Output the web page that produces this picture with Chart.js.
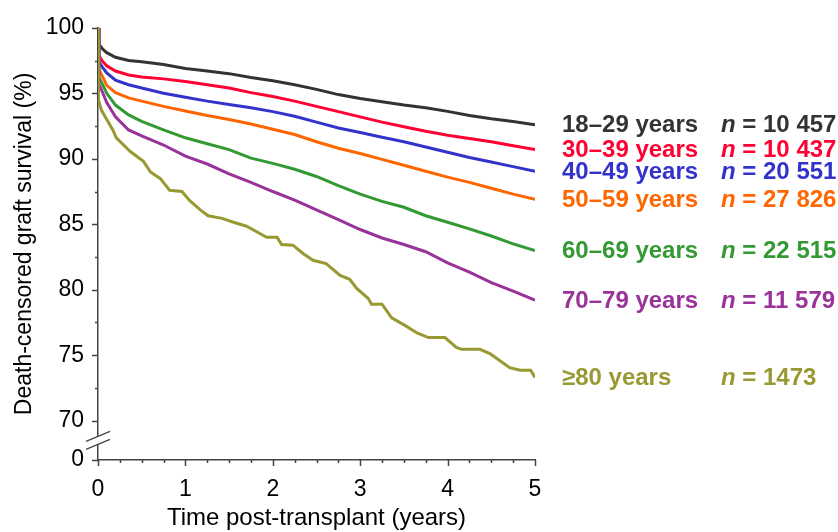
<!DOCTYPE html>
<html>
<head>
<meta charset="utf-8">
<script src="https://cdn.jsdelivr.net/npm/chart.js@4.4.1/dist/chart.umd.min.js"></script>
<style>
  html, body { margin: 0; padding: 0; background: #fff; }
  #wrap { width: 838px; height: 532px; }
</style>
</head>
<body>
<div id="wrap"><canvas id="survivalChart"></canvas></div>
<script>
// time points (years) shared by the six smoother curves
const years = [0, 0.01, 0.05, 0.1, 0.2, 0.35, 0.5, 0.75, 1, 1.25, 1.5, 1.75, 2, 2.25, 2.5, 2.75, 3, 3.25, 3.5, 3.75, 4, 4.25, 4.5, 4.75, 5];

const survival18to29 = [100, 98.75, 98.4, 98.1, 97.75, 97.5, 97.4, 97.2, 96.9, 96.7, 96.5, 96.2, 95.95, 95.65, 95.3, 94.9, 94.6, 94.35, 94.1, 93.9, 93.62, 93.3, 93.05, 92.85, 92.6];
const survival30to39 = [100, 97.9, 97.45, 97.1, 96.7, 96.4, 96.25, 96.1, 95.9, 95.65, 95.4, 95.05, 94.75, 94.4, 94.0, 93.6, 93.2, 92.8, 92.45, 92.1, 91.8, 91.55, 91.3, 91.0, 90.7];
const survival40to49 = [100, 97.4, 97.0, 96.55, 96.0, 95.65, 95.4, 95.0, 94.7, 94.4, 94.15, 93.9, 93.6, 93.25, 92.8, 92.35, 92.0, 91.65, 91.3, 90.9, 90.5, 90.1, 89.75, 89.4, 89.05];
const survival50to59 = [100, 96.85, 96.3, 95.6, 95.05, 94.65, 94.4, 94.0, 93.65, 93.3, 93.0, 92.65, 92.25, 91.85, 91.3, 90.8, 90.4, 89.95, 89.5, 89.05, 88.6, 88.2, 87.75, 87.3, 86.9];
const survival60to69 = [100, 96.2, 95.7, 95.0, 94.1, 93.35, 92.85, 92.2, 91.6, 91.15, 90.7, 90.05, 89.65, 89.2, 88.65, 87.95, 87.3, 86.75, 86.3, 85.65, 85.15, 84.65, 84.1, 83.5, 83.0];
const survival70to79 = [100, 95.7, 95.1, 94.3, 93.2, 92.2, 91.75, 91.05, 90.2, 89.6, 88.85, 88.2, 87.5, 86.85, 86.1, 85.35, 84.6, 83.95, 83.45, 82.9, 82.05, 81.35, 80.55, 79.9, 79.2];

// the >=80 curve has few patients, so it is read at its visible steps
const yearsOver80 = [0, 0.005, 0.04, 0.1, 0.17, 0.21, 0.37, 0.52, 0.6, 0.71, 0.82, 0.96, 1.05, 1.17, 1.26, 1.42, 1.55, 1.7, 1.93, 2.05, 2.1, 2.23, 2.35, 2.46, 2.61, 2.77, 2.88, 2.96, 3.09, 3.13, 3.25, 3.36, 3.53, 3.65, 3.78, 3.97, 4.1, 4.16, 4.37, 4.49, 4.71, 4.83, 4.95, 5];
const survivalOver80 = [100, 94.5, 93.7, 93.0, 92.2, 91.6, 90.55, 89.8, 89.0, 88.5, 87.6, 87.5, 86.8, 86.1, 85.65, 85.45, 85.15, 84.85, 84.0, 84.0, 83.45, 83.4, 82.75, 82.25, 82.0, 81.1, 80.8, 80.1, 79.35, 78.9, 78.9, 77.85, 77.2, 76.7, 76.35, 76.35, 75.6, 75.45, 75.45, 75.1, 74.05, 73.85, 73.85, 73.3];

const ageGroups = ['18\u201329 years', '30\u201339 years', '40\u201349 years', '50\u201359 years', '60\u201369 years', '70\u201379 years', '\u226580 years'];
const sampleSizes = ['10 457', '10 437', '20 551', '27 826', '22 515', '11 579', '1473'];
const colors = ['#333333', '#ff0033', '#3333cc', '#ff6600', '#339933', '#993399', '#999933'];

const xTicks = [0, 1, 2, 3, 4, 5];
const yTicks = [70, 75, 80, 85, 90, 95, 100];
const yFloor = 67;          // bottom of the broken axis, shown as "0"
const yBreak = 68.5;        // where the // break marks sit

const FONT = "'Liberation Sans', Arial, Helvetica, sans-serif";

const curves = [survival18to29, survival30to39, survival40to49, survival50to59, survival60to69, survival70to79];
const datasets = curves.map((vals, i) => ({
    label: ageGroups[i],
    data: years.map((t, j) => ({ x: t, y: vals[j] })),
    borderColor: colors[i],
    borderWidth: 3,
    pointRadius: 0,
    tension: 0,
    fill: false
}));
datasets.push({
    label: ageGroups[6],
    data: yearsOver80.map((t, j) => ({ x: t, y: survivalOver80[j] })),
    borderColor: colors[6],
    borderWidth: 3,
    pointRadius: 0,
    tension: 0,
    fill: false
});
// draw the oldest group first so the others sit on top near t=0
datasets.forEach((d, i) => d.order = -i);

const axisColor = '#444444';

const axisExtras = {
    id: 'axisExtras',
    afterDraw(chart) {
        const { ctx, chartArea, scales: { x, y } } = chart;
        ctx.save();
        ctx.strokeStyle = axisColor;
        ctx.lineWidth = 1.5;
        ctx.beginPath();
        // y ticks, majors and halves
        [yFloor, ...yTicks].forEach(v => {
            const py = Math.round(y.getPixelForValue(v)) + 0.5;
            ctx.moveTo(chartArea.left - 6, py);
            ctx.lineTo(chartArea.left, py);
        });
        for (let v = 72.5; v < 100; v += 5) {
            const py = Math.round(y.getPixelForValue(v)) + 0.5;
            ctx.moveTo(chartArea.left - 3, py);
            ctx.lineTo(chartArea.left, py);
        }
        // x ticks, years and quarters
        for (let t = 0; t <= 5.001; t += 0.25) {
            const px = Math.round(x.getPixelForValue(t)) + 0.5;
            const len = Math.abs(t - Math.round(t)) < 1e-6 ? 6 : 3;
            ctx.moveTo(px, chartArea.bottom);
            ctx.lineTo(px, chartArea.bottom + len);
        }
        ctx.stroke();

        // axis break
        const by = y.getPixelForValue(yBreak);
        const bx = chartArea.left;
        ctx.fillStyle = '#fff';
        ctx.beginPath();
        ctx.moveTo(bx - 12, by + 9);
        ctx.lineTo(bx + 12, by - 1);
        ctx.lineTo(bx + 12, by - 9);
        ctx.lineTo(bx - 12, by + 1);
        ctx.closePath();
        ctx.fill();
        ctx.lineWidth = 1.2;
        ctx.beginPath();
        ctx.moveTo(bx - 12, by + 1);
        ctx.lineTo(bx + 12, by - 9);
        ctx.moveTo(bx - 12, by + 9);
        ctx.lineTo(bx + 12, by - 1);
        ctx.stroke();
        ctx.restore();
    },
    afterDatasetsDraw(chart) {
        const { ctx, chartArea, scales: { y } } = chart;
        ctx.save();
        ctx.textBaseline = 'middle';
        ctx.textAlign = 'left';
        chart.data.datasets.forEach((ds, i) => {
            const last = ds.data[ds.data.length - 1];
            const py = y.getPixelForValue(last.y) + 1;
            ctx.fillStyle = colors[i];
            ctx.font = 'bold 24px ' + FONT;
            ctx.fillText(ageGroups[i], chartArea.right + 27, py);
            let px = chartArea.right + 186;
            ctx.font = 'italic bold 24px ' + FONT;
            ctx.fillText('n', px, py);
            px += ctx.measureText('n').width;
            ctx.font = 'bold 24px ' + FONT;
            ctx.fillText(' = ' + sampleSizes[i], px, py);
        });
        ctx.restore();
    }
};

new Chart(document.getElementById('survivalChart'), {
    type: 'line',
    data: { datasets },
    options: {
        responsive: true,
        maintainAspectRatio: false,
        animation: false,
        layout: { padding: { left: 0, top: 23, right: 303, bottom: 0 } },
        plugins: { legend: { display: false }, tooltip: { enabled: false } },
        scales: {
            x: {
                type: 'linear',
                min: 0,
                max: 5,
                afterFit: s => { s.height = 72; },
                afterBuildTicks: s => { s.ticks = xTicks.map(v => ({ value: v })); },
                grid: { display: false, drawTicks: false },
                border: { display: true, color: axisColor, width: 1.5 },
                ticks: { color: '#000', padding: 16, font: { family: FONT, size: 23 }, maxRotation: 0 },
                title: {
                    display: true,
                    text: 'Time post-transplant (years)',
                    color: '#000',
                    font: { family: FONT, size: 24 },
                    padding: { top: 0, bottom: -1 }
                }
            },
            y: {
                type: 'linear',
                min: yFloor,
                max: 100,
                afterFit: s => { s.width = 98; },
                afterBuildTicks: s => { s.ticks = [yFloor, ...yTicks].map(v => ({ value: v })); },
                grid: { display: false, drawTicks: false },
                border: { display: true, color: axisColor, width: 1.5 },
                ticks: {
                    color: '#000',
                    padding: 14,
                    font: { family: FONT, size: 23 },
                    callback: v => v === yFloor ? '0' : String(v)
                },
                title: {
                    display: true,
                    text: 'Death-censored graft survival (%)',
                    color: '#000',
                    font: { family: FONT, size: 23 },
                    padding: { top: 11, bottom: 0 }
                }
            }
        }
    },
    plugins: [axisExtras]
});
</script>
</body>
</html>
